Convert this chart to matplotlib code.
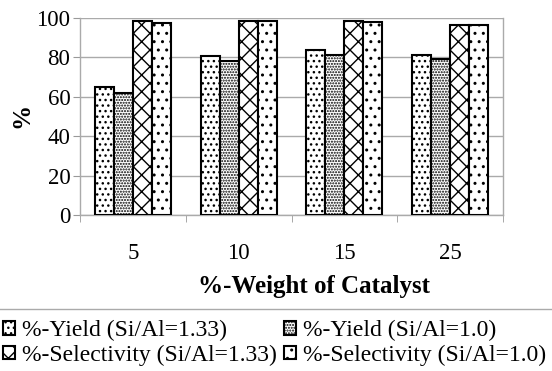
import numpy as np
import matplotlib.pyplot as plt
from matplotlib.lines import Line2D

plt.rcParams['font.family'] = ['Liberation Serif', 'DejaVu Serif']
plt.rcParams['hatch.linewidth'] = 1.0

catalyst_wt = ['5', '10', '15', '25']
yield_133 = [65, 80.5, 84, 81]
yield_10 = [62, 78, 81, 79]
select_133 = [98.5, 98.5, 98.5, 96.5]
select_10 = [97.5, 98.5, 98, 96.5]

series = [
    ('%-Yield (Si/Al=1.33)', yield_133, '...'),
    ('%-Yield (Si/Al=1.0)', yield_10, '......'),
    ('%-Selectivity (Si/Al=1.33)', select_133, 'xx'),
    ('%-Selectivity (Si/Al=1.0)', select_10, '..'),
]

fig = plt.figure(figsize=(5.52, 3.71), dpi=100)
ax = fig.add_axes([80 / 552, 1 - 215 / 371, 423 / 552, 197 / 371])

x = np.arange(len(catalyst_wt))
w = 0.18
handles = []
for i, (label, vals, hatch) in enumerate(series):
    bars = ax.bar(x + (i - 1.5) * w, vals, w, color='white', edgecolor='black',
                  linewidth=1.5, hatch=hatch, label=label, zorder=3)
    handles.append(bars)

ax.set_xlim(-0.5, len(catalyst_wt) - 0.5)
ax.set_ylim(0, 100)
ax.set_yticks(range(0, 101, 20))
ax.set_xticks(x)
ax.set_xticklabels(catalyst_wt)
ax.set_xticks(np.arange(-0.5, len(catalyst_wt), 1), minor=True)
ax.tick_params(axis='x', which='major', length=0, labelsize=16.5, pad=20)
ax.tick_params(axis='x', which='minor', length=5, color='#999999', direction='out')
ax.tick_params(axis='y', labelsize=16.5, length=5, color='#999999', pad=2)
ax.grid(axis='y', color='#aaaaaa', linewidth=1, zorder=0)
for s in ax.spines.values():
    s.set_color('#aaaaaa')
    s.set_linewidth(1)
ax.spines['top'].set_visible(False)

ax.set_ylabel('%', fontsize=18, fontweight='bold', va='center')
ax.yaxis.set_label_coords(-0.137, 0.505)
ax.set_xlabel('%-Weight of Catalyst', fontsize=18, fontweight='bold', va='center')
ax.xaxis.set_label_coords(0.553, -0.365)

# thin rule above the legend
fig.add_artist(Line2D([0, 1], [1 - 309 / 371] * 2, transform=fig.transFigure,
                      color='#aaaaaa', linewidth=1))

# legend filled row by row: yields on top, selectivities below
order = [0, 2, 1, 3]
fig.legend(handles=[handles[k] for k in order], loc='upper left',
           bbox_to_anchor=(3 / 552, 1 - 320 / 371),
           ncol=2, frameon=False, fontsize=17, handlelength=0.5, handleheight=0.5,
           handletextpad=0.3, columnspacing=0.3, labelspacing=0.15,
           borderpad=0, borderaxespad=0)

fig.savefig('out.png', dpi=100)
